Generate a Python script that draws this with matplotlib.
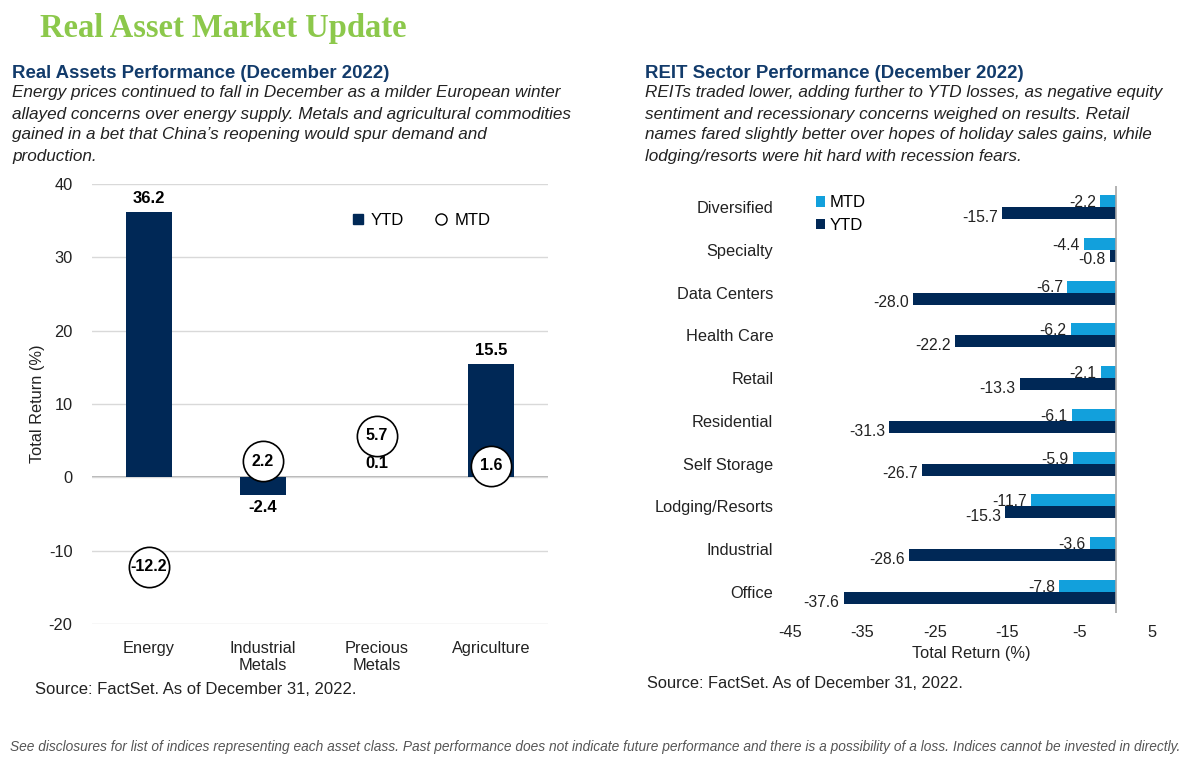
import matplotlib
matplotlib.use("Agg")
import matplotlib.pyplot as plt
from matplotlib.lines import Line2D

plt.rcParams['font.family'] = ['Liberation Sans', 'DejaVu Sans']
plt.rcParams['axes.unicode_minus'] = False

NAVY = "#002856"
LIGHT = "#12A0DC"
GREEN = "#8CC84B"
TITLE_BLUE = "#123B6B"
TXT = "#222222"

# left chart data
assets = ["Energy", "Industrial\nMetals", "Precious\nMetals", "Agriculture"]
asset_ytd = [36.2, -2.4, 0.1, 15.5]
asset_mtd = [-12.2, 2.2, 5.7, 1.6]

# right chart data (top to bottom)
sectors = ["Diversified", "Specialty", "Data Centers", "Health Care", "Retail",
           "Residential", "Self Storage", "Lodging/Resorts", "Industrial", "Office"]
sector_mtd = [-2.2, -4.4, -6.7, -6.2, -2.1, -6.1, -5.9, -11.7, -3.6, -7.8]
sector_ytd = [-15.7, -0.8, -28.0, -22.2, -13.3, -31.3, -26.7, -15.3, -28.6, -37.6]

fig = plt.figure(figsize=(12, 7.65), dpi=100)

# headings
fig.text(40/1200, 1-28/765, "Real Asset Market Update", family="Liberation Serif",
         fontsize=23.5, fontweight="bold", color=GREEN, va="center")
fig.text(12/1200, 1-73/765, "Real Assets Performance (December 2022)", fontsize=13.4,
         fontweight="bold", color=TITLE_BLUE, va="center")
left_note = ["Energy prices continued to fall in December as a milder European winter",
             "allayed concerns over energy supply. Metals and agricultural commodities",
             "gained in a bet that China\u2019s reopening would spur demand and",
             "production."]
for i, line in enumerate(left_note):
    fig.text(12/1200, 1-(93+21*i)/765, line, fontsize=12.3, style="italic",
             color=TXT, va="center")

fig.text(645/1200, 1-73/765, "REIT Sector Performance (December 2022)", fontsize=13.4,
         fontweight="bold", color=TITLE_BLUE, va="center")
right_note = ["REITs traded lower, adding further to YTD losses, as negative equity",
              "sentiment and recessionary concerns weighed on results. Retail",
              "names fared slightly better over hopes of holiday sales gains, while",
              "lodging/resorts were hit hard with recession fears."]
for i, line in enumerate(right_note):
    fig.text(645/1200, 1-(93+21*i)/765, line, fontsize=12.3, style="italic",
             color=TXT, va="center")

# ---- left chart ----
ax1 = fig.add_axes([92/1200, 1-624/765, 456/1200, 440/765])
x = range(len(assets))
ax1.bar(x, asset_ytd, width=0.4, color=NAVY, zorder=2)
ax1.set_ylim(-20, 40)
ax1.set_xlim(-0.5, 3.5)
ax1.set_yticks([-20, -10, 0, 10, 20, 30, 40])
ax1.yaxis.grid(True, color="#d9d9d9", linewidth=1, zorder=0)
ax1.axhline(0, color="#a6a6a6", linewidth=1.2, zorder=1)
for s in ax1.spines.values():
    s.set_visible(False)
ax1.tick_params(length=0, labelsize=11.8, colors=TXT)
ax1.tick_params(axis="y", pad=14)
ax1.tick_params(axis="x", pad=12)
ax1.set_xticks(list(x))
ax1.set_xticklabels(assets)
ax1.set_ylabel("Total Return (%)", fontsize=11.8, color=TXT, labelpad=3)

for i, v in enumerate(asset_ytd):
    if v >= 0:
        ax1.annotate(f"{v:.1f}", (i, v), xytext=(0, 4), textcoords="offset points",
                     ha="center", va="bottom", fontsize=12, fontweight="bold")
    else:
        ax1.annotate(f"{v:.1f}", (i, v), xytext=(0, -4), textcoords="offset points",
                     ha="center", va="top", fontsize=12, fontweight="bold")

ax1.plot(list(x), asset_mtd, linestyle="none", marker="o", markersize=29,
         markerfacecolor="white", markeredgecolor="black", markeredgewidth=1.2, zorder=3)
for i, v in enumerate(asset_mtd):
    ax1.text(i, v, f"{v:.1f}", ha="center", va="center", fontsize=11.5,
             fontweight="bold", zorder=4)

h1 = [Line2D([], [], linestyle="none", marker="s", color=NAVY, markersize=7),
      Line2D([], [], linestyle="none", marker="o", markerfacecolor="white",
             markeredgecolor="black", markersize=8)]
ax1.legend(h1, ["YTD", "MTD"], ncol=2, frameon=False, loc="center",
           bbox_to_anchor=(0.71, 0.918), fontsize=12, handletextpad=-0.2,
           columnspacing=1.2)

fig.text(35/1200, 1-689/765, "Source: FactSet. As of December 31, 2022.", fontsize=12,
         color=TXT, va="center")

# ---- right chart ----
ax2 = fig.add_axes([790/1200, 1-613.4/765, 362/1200, 427.8/765])
ys = list(range(len(sectors)))[::-1]
bh = 0.28
ax2.barh([y + bh/2 for y in ys], sector_mtd, height=bh, color=LIGHT, label="MTD", zorder=2)
ax2.barh([y - bh/2 for y in ys], sector_ytd, height=bh, color=NAVY, label="YTD", zorder=2)
ax2.axvline(0, color="#a6a6a6", linewidth=1.2, zorder=3)
ax2.set_xlim(-45, 5)
ax2.set_ylim(-0.5, len(sectors) - 0.5)
ax2.set_xticks([-45, -35, -25, -15, -5, 5])
ax2.set_yticks(ys)
ax2.set_yticklabels(sectors)
for s in ax2.spines.values():
    s.set_visible(False)
ax2.tick_params(length=0, labelsize=11.8, colors=TXT)
ax2.tick_params(axis="y", pad=12)
ax2.tick_params(axis="x", pad=8)
ax2.set_xlabel("Total Return (%)", fontsize=11.8, color=TXT, labelpad=5)

for y, m, t in zip(ys, sector_mtd, sector_ytd):
    ax2.annotate(f"{m:.1f}", (m, y + bh/2), xytext=(-3, -1), textcoords="offset points",
                 ha="right", va="center", fontsize=11.3, color=TXT)
    ax2.annotate(f"{t:.1f}", (t, y - bh/2), xytext=(-3, -3), textcoords="offset points",
                 ha="right", va="center", fontsize=11.3, color=TXT)

ax2.legend(loc="upper left", bbox_to_anchor=(0.03, 1.012), frameon=False, fontsize=12,
           handlelength=0.55, handleheight=0.6, handletextpad=0.25, labelspacing=0.45)

fig.text(647/1200, 1-684/765, "Source: FactSet. As of December 31, 2022.", fontsize=11.8,
         color=TXT, va="center")

fig.text(10/1200, 1-747/765,
         "See disclosures for list of indices representing each asset class. Past performance does not indicate future performance and there is a possibility of a loss. Indices cannot be invested in directly.",
         fontsize=9.9, style="italic", color="#555555", va="center")

fig.savefig("out.png", dpi=100)
